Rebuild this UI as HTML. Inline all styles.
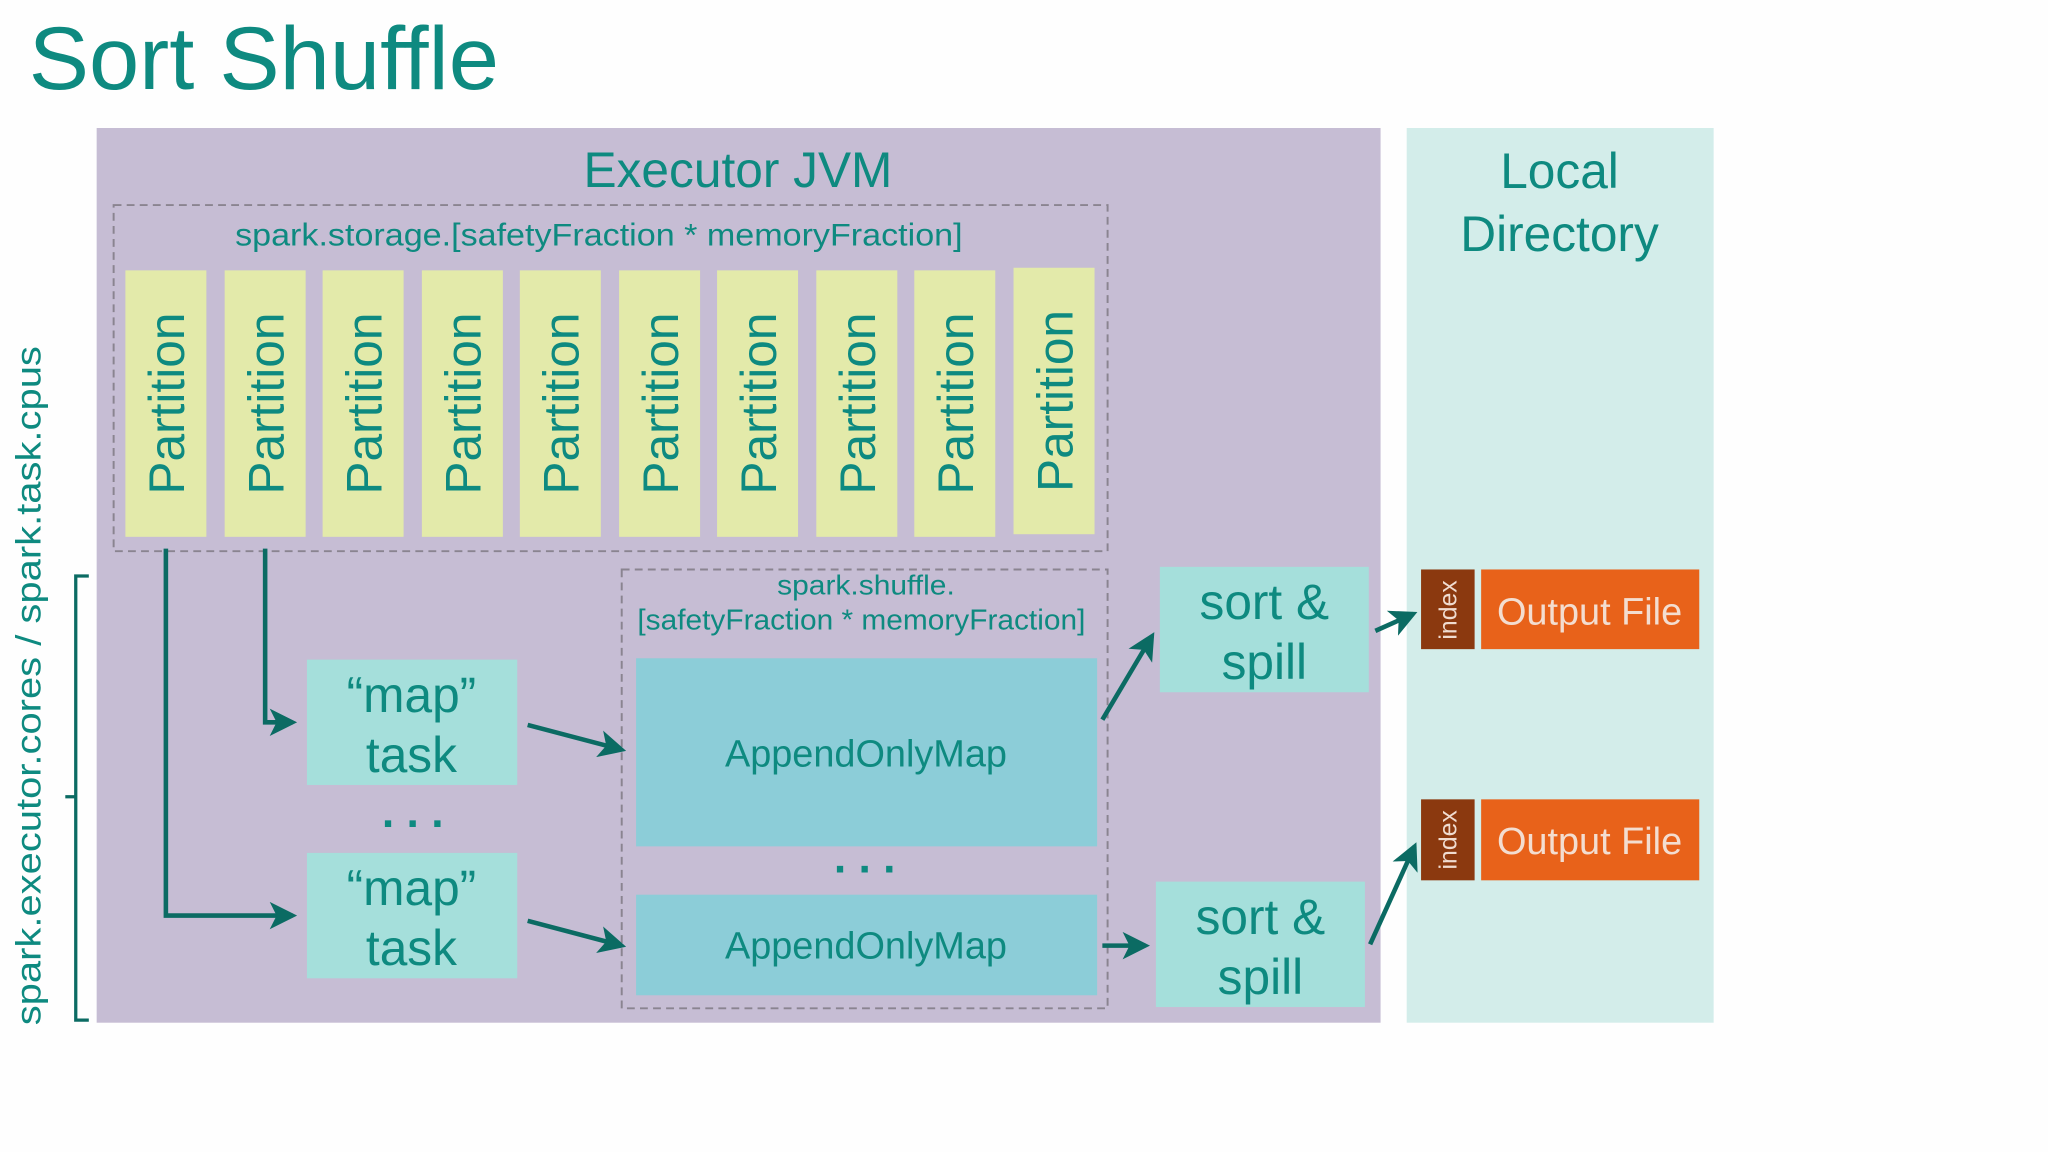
<!DOCTYPE html>
<html><head><meta charset="utf-8"><style>
html,body{margin:0;padding:0;background:#fefefe;}
svg{display:block;}
text{font-family:"Liberation Sans",Arial,sans-serif;}
</style></head><body>
<svg width="2048" height="1152" viewBox="0 0 1568 882" xmlns="http://www.w3.org/2000/svg">
<defs>
<marker id="ah" markerWidth="6" markerHeight="6" refX="5" refY="3" orient="auto" markerUnits="strokeWidth">
<path d="M0,0 L6,3 L0,6 L1.5,3 Z" fill="#0b6b63"/>
</marker>
</defs>
<rect width="1568" height="882" fill="#fefefe"/>
<text x="22" y="68" font-size="68" fill="#0e8a80" textLength="360" lengthAdjust="spacingAndGlyphs">Sort Shuffle</text>
<rect x="74" y="98" width="983" height="685" fill="#c6bdd4"/>
<rect x="1077" y="98" width="235" height="685" fill="#d3edea"/>
<text x="565" y="143" font-size="38" fill="#0e8a80" text-anchor="middle">Executor JVM</text>
<text x="1194" y="144" font-size="38" fill="#0e8a80" text-anchor="middle">Local</text>
<text x="1194" y="192" font-size="38" fill="#0e8a80" text-anchor="middle">Directory</text>
<rect x="87" y="157" width="761" height="265" fill="none" stroke="#8a8490" stroke-width="1.5" stroke-dasharray="6,4"/>
<text x="180" y="188" font-size="24" fill="#0e8a80" textLength="557" lengthAdjust="spacingAndGlyphs">spark.storage.[safetyFraction * memoryFraction]</text>
<g fill="#e3eaaa">
<rect x="96" y="207" width="62" height="204"/><rect x="172" y="207" width="62" height="204"/>
<rect x="247" y="207" width="62" height="204"/><rect x="323" y="207" width="62" height="204"/>
<rect x="398" y="207" width="62" height="204"/><rect x="474" y="207" width="62" height="204"/>
<rect x="549" y="207" width="62" height="204"/><rect x="625" y="207" width="62" height="204"/>
<rect x="700" y="207" width="62" height="204"/><rect x="776" y="205" width="62" height="204"/>
</g>
<g font-size="38" fill="#0e8a80" text-anchor="middle">
<text transform="translate(141,309) rotate(-90)">Partition</text>
<text transform="translate(217,309) rotate(-90)">Partition</text>
<text transform="translate(292,309) rotate(-90)">Partition</text>
<text transform="translate(368,309) rotate(-90)">Partition</text>
<text transform="translate(443,309) rotate(-90)">Partition</text>
<text transform="translate(519,309) rotate(-90)">Partition</text>
<text transform="translate(594,309) rotate(-90)">Partition</text>
<text transform="translate(670,309) rotate(-90)">Partition</text>
<text transform="translate(745,309) rotate(-90)">Partition</text>
<text transform="translate(821,307) rotate(-90)">Partition</text>
</g>
<rect x="476" y="436" width="372" height="336" fill="none" stroke="#8a8490" stroke-width="1.5" stroke-dasharray="6,4"/>
<text x="595" y="455" font-size="21" fill="#0e8a80" textLength="136" lengthAdjust="spacingAndGlyphs">spark.shuffle.</text>
<text x="488" y="482" font-size="22" fill="#0e8a80" textLength="343" lengthAdjust="spacingAndGlyphs">[safetyFraction * memoryFraction]</text>
<rect x="487" y="504" width="353" height="144" fill="#8ccdd8"/>
<text x="663" y="587" font-size="29" fill="#0e8a80" text-anchor="middle">AppendOnlyMap</text>
<text x="662" y="668" font-size="34" fill="#0e8a80" text-anchor="middle" font-weight="bold">. . .</text>
<rect x="487" y="685" width="353" height="77" fill="#8ccdd8"/>
<text x="663" y="734" font-size="29" fill="#0e8a80" text-anchor="middle">AppendOnlyMap</text>
<g fill="#a5dfdb">
<rect x="235" y="505" width="161" height="96"/><rect x="235" y="653" width="161" height="96"/>
<rect x="888" y="434" width="160" height="96"/><rect x="885" y="675" width="160" height="96"/>
</g>
<g font-size="38" fill="#0e8a80" text-anchor="middle">
<text x="315" y="545">“map”</text><text x="315" y="591">task</text>
<text x="315" y="693">“map”</text><text x="315" y="739">task</text>
<text x="968" y="474">sort &amp;</text><text x="968" y="520">spill</text>
<text x="965" y="715">sort &amp;</text><text x="965" y="761">spill</text>
</g>
<text x="316" y="633" font-size="34" fill="#0e8a80" text-anchor="middle" font-weight="bold">. . .</text>
<rect x="1088" y="436" width="41" height="61" fill="#8b390f"/>
<rect x="1134" y="436" width="167" height="61" fill="#e8621a"/>
<rect x="1088" y="612" width="41" height="62" fill="#8b390f"/>
<rect x="1134" y="612" width="167" height="62" fill="#e8621a"/>
<g font-size="19" fill="#f0dcd0" text-anchor="middle">
<text transform="translate(1115,467) rotate(-90)">index</text>
<text transform="translate(1115,643) rotate(-90)">index</text>
</g>
<text x="1217" y="478" font-size="29" fill="#f3ddd0" text-anchor="middle">Output File</text>
<text x="1217" y="654" font-size="29" fill="#f3ddd0" text-anchor="middle">Output File</text>
<text transform="translate(31,785) rotate(-90)" font-size="27" fill="#0e8a80" textLength="520" lengthAdjust="spacingAndGlyphs">spark.executor.cores / spark.task.cpus</text>
<path d="M68,441 L58,441 L58,610 L50,610 M58,610 L58,781 L68,781" fill="none" stroke="#0b6b63" stroke-width="2.5"/>
<g stroke="#0b6b63" stroke-width="3.5" fill="none" marker-end="url(#ah)">
<path d="M127,420 L127,701 L224,701"/>
<path d="M203,420 L203,553 L224,553"/>
<path d="M404,555 L476,574"/>
<path d="M404,705 L476,724"/>
<path d="M844,551 L882,487"/>
<path d="M844,724 L877,724"/>
<path d="M1053,483 L1082,470"/>
<path d="M1049,723 L1083,648"/>
</g>
</svg>
</body></html>
